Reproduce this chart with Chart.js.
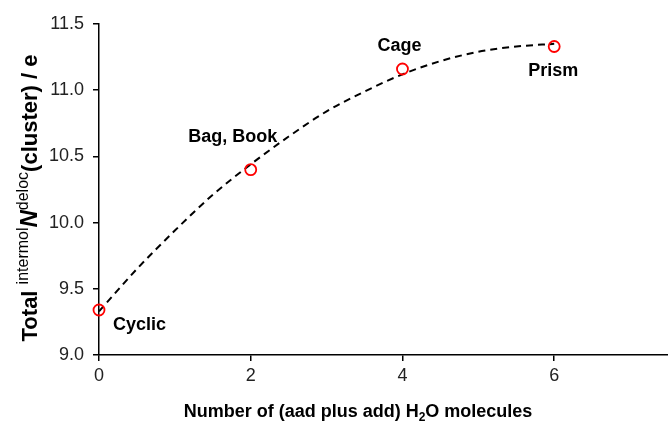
<!DOCTYPE html>
<html>
<head>
<meta charset="utf-8">
<script src="https://cdn.jsdelivr.net/npm/chart.js@4"></script>
<style>
  html, body { margin: 0; padding: 0; background: #fff; overflow: hidden; }
  canvas { display: block; }
</style>
</head>
<body>
<canvas id="grafico" width="668" height="425"></canvas>
<script>
// valores
const xValores = [0, 2, 4, 6];
const yValores = [9.34, 10.40, 11.16, 11.33];
const rotulos = ["Cyclic", "Bag, Book", "Cage", "Prism"];
// linha de tendência (tracejada), lida ao longo da curva
const xTendencia = [0, 0.5, 1, 1.5, 2, 2.5, 3, 3.5, 4, 4.5, 5, 5.5, 6];
const yTendencia = [9.33, 9.65, 9.94, 10.21, 10.44, 10.65, 10.84, 10.99, 11.12, 11.22, 11.29, 11.33, 11.35];
const xTicks = [0, 2, 4, 6];

const FONTE = "'Liberation Sans', Arial, sans-serif";

// posição dos rótulos em relação ao ponto (px)
const deslocRotulos = [
  { dx: 14, dy: 15, align: "left" },
  { dx: -18, dy: -33, align: "center" },
  { dx: -3, dy: -23, align: "center" },
  { dx: -1, dy: 25, align: "center" },
];

const pluginTextos = {
  id: "textos",
  afterDatasetsDraw(chart) {
    const { ctx, scales } = chart;
    ctx.save();
    ctx.fillStyle = "#000";
    ctx.textBaseline = "middle";
    ctx.font = "bold 18px " + FONTE;
    rotulos.forEach((r, i) => {
      const px = scales.x.getPixelForValue(xValores[i]);
      const py = scales.y.getPixelForValue(yValores[i]);
      const d = deslocRotulos[i];
      ctx.textAlign = d.align;
      ctx.fillText(r, px + d.dx, py + d.dy);
    });
    ctx.restore();
  },
  afterDraw(chart) {
    const { ctx } = chart;
    ctx.save();
    ctx.fillStyle = "#000";
    ctx.textBaseline = "alphabetic";
    ctx.textAlign = "left";

    // título do eixo x com subscrito
    const partesX = [
      { t: "Number of (aad plus add) H", f: "bold 18px " + FONTE, dy: 0 },
      { t: "2", f: "bold 12px " + FONTE, dy: 4 },
      { t: "O molecules", f: "bold 18px " + FONTE, dy: 0 },
    ];
    desenharPartes(ctx, partesX, 358, 417);

    // título do eixo y, rotacionado
    const partesY = [
      { t: "Total ", f: "bold 22px " + FONTE, dy: 0 },
      { t: "intermol", f: "16px " + FONTE, dy: -9 },
      { t: "N", f: "italic bold 24px " + FONTE, dy: 0 },
      { t: "deloc", f: "16px " + FONTE, dy: -9 },
      { t: "(cluster) / e", f: "bold 22px " + FONTE, dy: 0 },
    ];
    ctx.translate(37, 198);
    ctx.rotate(-Math.PI / 2);
    desenharPartes(ctx, partesY, 0, 0);
    ctx.restore();
  },
};

function desenharPartes(ctx, partes, cx, baseY) {
  let total = 0;
  partes.forEach((p) => {
    ctx.font = p.f;
    total += ctx.measureText(p.t).width;
  });
  let x = cx - total / 2;
  partes.forEach((p) => {
    ctx.font = p.f;
    ctx.fillText(p.t, x, baseY + p.dy);
    x += ctx.measureText(p.t).width;
  });
}

new Chart(document.getElementById("grafico"), {
  type: "scatter",
  data: {
    datasets: [
      {
        data: xValores.map((x, i) => ({ x, y: yValores[i] })),
        pointStyle: "circle",
        pointRadius: 5.5,
        pointBorderWidth: 1.8,
        pointBorderColor: "#ff0000",
        pointBackgroundColor: "rgba(0,0,0,0)",
        showLine: false,
        clip: false,
        order: 0,
      },
      {
        data: xTendencia.map((x, i) => ({ x, y: yTendencia[i] })),
        showLine: true,
        borderColor: "#000",
        borderWidth: 2,
        borderDash: [7, 5],
        pointRadius: 0,
        cubicInterpolationMode: "monotone",
        clip: false,
        order: 1,
      },
    ],
  },
  options: {
    responsive: false,
    animation: false,
    layout: { autoPadding: false, padding: { top: 24, right: 0, left: 0, bottom: 0 } },
    plugins: { legend: { display: false }, tooltip: { enabled: false } },
    scales: {
      x: {
        type: "linear",
        min: 0,
        max: 7.5,
        afterFit(s) {
          s.height = 70;
          s.paddingLeft = 0;
          s.paddingRight = 0;
        },
        afterBuildTicks(s) { s.ticks = xTicks.map((v) => ({ value: v })); },
        ticks: {
          includeBounds: false,
          color: "#222",
          font: { family: FONTE, size: 18 },
          padding: 4,
          maxRotation: 0,
          callback: (v) => String(v),
        },
        grid: { drawOnChartArea: false, drawTicks: true, tickLength: 6, color: "#000", lineWidth: 1.5 },
        border: { color: "#000", width: 1.5 },
      },
      y: {
        min: 9.0,
        max: 11.5,
        afterFit(s) { s.width = 99; },
        ticks: {
          stepSize: 0.5,
          color: "#222",
          font: { family: FONTE, size: 18 },
          padding: 9,
          callback: (v) => v.toFixed(1),
        },
        grid: { drawOnChartArea: false, drawTicks: true, tickLength: 6, color: "#000", lineWidth: 1.5 },
        border: { color: "#000", width: 1.5 },
      },
    },
  },
  plugins: [pluginTextos],
});
</script>
</body>
</html>
